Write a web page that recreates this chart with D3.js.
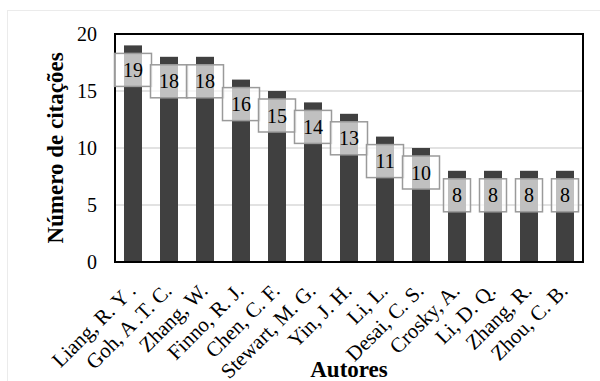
<!DOCTYPE html>
<html>
<head>
<meta charset="utf-8">
<script src="https://cdn.jsdelivr.net/npm/d3@7"></script>
<style>
  html, body { margin: 0; padding: 0; background: #fff; }
  svg { display: block; font-family: "Liberation Serif", "Times New Roman", serif; }
</style>
</head>
<body>
<svg id="chart" width="600" height="381"></svg>
<script>
// Citations per author
const authors = [
  "Liang, R. Y .", "Goh, A .T. C.", "Zhang, W.", "Finno, R. J.", "Chen, C. F.",
  "Stewart, M. G.", "Yin, J. H.", "Li, L.", "Desai, C. S.", "Crosky, A.",
  "Li, D. Q.", "Zhang, R.", "Zhou, C. B."
];
const citations = [19, 18, 18, 16, 15, 14, 13, 11, 10, 8, 8, 8, 8];
const yTicks = [0, 5, 10, 15, 20];

const svg = d3.select("#chart");
const plot = { left: 115, right: 583, top: 34, bottom: 262 };

// Outer chart frame (extends past the page edge)
svg.append("rect")
  .attr("x", 7.5).attr("y", 10.5)
  .attr("width", 620).attr("height", 400)
  .attr("fill", "none").attr("stroke", "#ebebeb").attr("stroke-width", 1);

const x = d3.scaleBand()
  .domain(authors)
  .range([plot.left, plot.right])
  .paddingInner(0.5)
  .paddingOuter(0.25);

const y = d3.scaleLinear().domain([0, 20]).range([plot.bottom, plot.top]);

// Horizontal gridlines
svg.append("g")
  .selectAll("line")
  .data(yTicks.filter(t => t > 0 && t < 20))
  .join("line")
  .attr("x1", plot.left).attr("x2", plot.right)
  .attr("y1", d => y(d)).attr("y2", d => y(d))
  .attr("stroke", "#d9d9d9").attr("stroke-width", 1.5);

// Bars
svg.append("g")
  .selectAll("rect")
  .data(citations)
  .join("rect")
  .attr("x", (d, i) => x(authors[i]))
  .attr("y", d => y(d))
  .attr("width", x.bandwidth())
  .attr("height", d => y(0) - y(d))
  .attr("fill", "#404040");

// Plot frame
svg.append("rect")
  .attr("x", plot.left).attr("y", plot.top)
  .attr("width", plot.right - plot.left).attr("height", plot.bottom - plot.top)
  .attr("fill", "none").attr("stroke", "#000").attr("stroke-width", 2);

// Y axis (labels only)
const yAxis = d3.axisLeft(y).tickValues(yTicks).tickSize(0).tickPadding(18);
const yg = svg.append("g").attr("transform", `translate(${plot.left},0)`).call(yAxis);
yg.attr("font-family", null);
yg.select(".domain").remove();
yg.selectAll("text")
  .attr("font-size", 20)
  .attr("fill", "#000");

// X axis (rotated category labels)
const xAxis = d3.axisBottom(x).tickSize(0);
const xg = svg.append("g").attr("transform", `translate(0,${plot.bottom})`).call(xAxis);
xg.attr("font-family", null);
xg.select(".domain").remove();
xg.selectAll("text")
  .attr("font-size", 21)
  .attr("fill", "#000")
  .attr("text-anchor", "end")
  .attr("dy", 0)
  .attr("y", 0)
  .attr("transform", "translate(4,30) rotate(-45)");

// Value labels in translucent boxes
const labels = svg.append("g")
  .selectAll("g")
  .data(citations)
  .join("g")
  .attr("transform", (d, i) => `translate(${x(authors[i]) + x.bandwidth() / 2},${y(d) + 24.5})`);

labels.each(function(d) {
  const g = d3.select(this);
  const txt = String(d);
  const w = txt.length === 1 ? 27 : 37;
  g.append("rect")
    .attr("x", -w / 2).attr("y", -16.5)
    .attr("width", w).attr("height", 33)
    .attr("fill", "#fff").attr("fill-opacity", 0.67)
    .attr("stroke", "#9a9a9a").attr("stroke-width", 1.5);
  g.append("text")
    .attr("text-anchor", "middle")
    .attr("y", 7)
    .attr("font-size", 20)
    .attr("fill", "#000")
    .text(txt);
});

// Axis titles
svg.append("text")
  .attr("transform", `translate(63,148) rotate(-90)`)
  .attr("text-anchor", "middle")
  .attr("font-weight", "bold")
  .attr("font-size", 23)
  .text("Número de citações");

svg.append("text")
  .attr("x", 349).attr("y", 377)
  .attr("text-anchor", "middle")
  .attr("font-weight", "bold")
  .attr("font-size", 23)
  .text("Autores");
</script>
</body>
</html>
